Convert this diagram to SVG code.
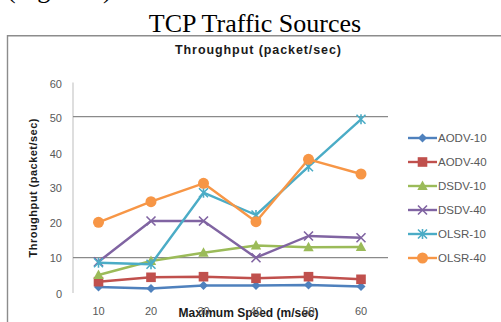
<svg xmlns="http://www.w3.org/2000/svg" width="501" height="322" viewBox="0 0 501 322">
  <style>
    .cap { font-family: "Liberation Serif", "Times New Roman", serif; font-size: 26px; fill: #000; }
    .ttl { font-family: "Liberation Sans", Arial, sans-serif; font-weight: bold; fill: #1a1a1a; }
    .tick { font-family: "Liberation Sans", Arial, sans-serif; font-size: 11px; fill: #595959; }
    .leg { font-family: "Liberation Sans", Arial, sans-serif; font-size: 11.5px; fill: #595959; }
    .grid { stroke: #8a8a8a; stroke-width: 1.2; }
    .axis { stroke: #c8c8c8; stroke-width: 1.2; }
    .ser { fill: none; stroke-width: 2.4; stroke-linejoin: round; }
    .aodv10 { stroke: #4F81BD; marker-start: url(#mDiamond); marker-mid: url(#mDiamond); marker-end: url(#mDiamond); }
    .aodv40 { stroke: #C0504D; marker-start: url(#mSquare); marker-mid: url(#mSquare); marker-end: url(#mSquare); }
    .dsdv10 { stroke: #9BBB59; marker-start: url(#mTri); marker-mid: url(#mTri); marker-end: url(#mTri); }
    .dsdv40 { stroke: #8064A2; marker-start: url(#mX); marker-mid: url(#mX); marker-end: url(#mX); }
    .olsr10 { stroke: #4BACC6; marker-start: url(#mStar); marker-mid: url(#mStar); marker-end: url(#mStar); }
    .olsr40 { stroke: #F79646; marker-start: url(#mCircle); marker-mid: url(#mCircle); marker-end: url(#mCircle); }
    .legline { marker-start: none; marker-end: none; }
  </style>
  <defs>
    <marker id="mDiamond" markerUnits="userSpaceOnUse" viewBox="-6 -6 12 12" markerWidth="12" markerHeight="12" refX="0" refY="0" overflow="visible">
      <path d="M0 -4.5 L4.5 0 L0 4.5 L-4.5 0 Z" fill="#4F81BD"/>
    </marker>
    <marker id="mSquare" markerUnits="userSpaceOnUse" viewBox="-6 -6 12 12" markerWidth="12" markerHeight="12" refX="0" refY="0" overflow="visible">
      <rect x="-4.8" y="-4.8" width="9.6" height="9.6" fill="#C0504D"/>
    </marker>
    <marker id="mTri" markerUnits="userSpaceOnUse" viewBox="-6 -6 12 12" markerWidth="12" markerHeight="12" refX="0" refY="0" overflow="visible">
      <path d="M0 -5.5 L5.2 4 L-5.2 4 Z" fill="#9BBB59"/>
    </marker>
    <marker id="mX" markerUnits="userSpaceOnUse" viewBox="-6 -6 12 12" markerWidth="12" markerHeight="12" refX="0" refY="0" overflow="visible">
      <path d="M-4.5 -4.5 L4.5 4.5 M4.5 -4.5 L-4.5 4.5" stroke="#8064A2" stroke-width="1.6" fill="none"/>
    </marker>
    <marker id="mStar" markerUnits="userSpaceOnUse" viewBox="-6 -6 12 12" markerWidth="12" markerHeight="12" refX="0" refY="0" overflow="visible">
      <path d="M-4.5 -4.5 L4.5 4.5 M4.5 -4.5 L-4.5 4.5 M0 -5 L0 5" stroke="#4BACC6" stroke-width="1.6" fill="none"/>
    </marker>
    <marker id="mCircle" markerUnits="userSpaceOnUse" viewBox="-6 -6 12 12" markerWidth="12" markerHeight="12" refX="0" refY="0" overflow="visible">
      <circle r="5.5" fill="#F79646"/>
    </marker>
  </defs>

  <rect width="501" height="322" fill="#ffffff"/>

  <!-- caption text above the chart (its first line runs off the top edge) -->
  <text class="cap" x="7" y="-2">(Figure 6).</text>
  <text class="cap" x="255" y="32" text-anchor="middle">TCP Traffic Sources</text>

  <!-- chart area frame -->
  <path d="M7.5 322 L7.5 35.7 L501 35.7" fill="none" stroke="#8c8c8c" stroke-width="1.4"/>

  <!-- titles -->
  <text class="ttl" x="258" y="54" text-anchor="middle" font-size="12.5" textLength="166" lengthAdjust="spacing">Throughput  (packet/sec)</text>
  <text class="ttl" font-size="11" text-anchor="middle" transform="translate(37 188) rotate(-90)" textLength="139" lengthAdjust="spacing">Throughput (packet/sec)</text>
  <text class="ttl" x="248.5" y="317" text-anchor="middle" font-size="12">Maximum Speed (m/sec)</text>

  <!-- axes and gridlines -->
  <g id="axes">
    <line class="axis" x1="73" y1="82.5" x2="73" y2="293"/>
    <line class="grid" x1="73" y1="116.7" x2="388" y2="116.7"/>
    <line class="grid" x1="73" y1="257.7" x2="388" y2="257.7"/>
    <g class="tick" text-anchor="end">
      <text x="62" y="88">60</text>
      <text x="62" y="122">50</text>
      <text x="62" y="158">40</text>
      <text x="62" y="192">30</text>
      <text x="62" y="227">20</text>
      <text x="62" y="262">10</text>
      <text x="62" y="298">0</text>
    </g>
    <g class="tick" text-anchor="middle">
      <text x="98.5" y="315">10</text>
      <text x="151" y="315">20</text>
      <text x="203.5" y="315">30</text>
      <text x="256" y="315">40</text>
      <text x="308.5" y="315">50</text>
      <text x="361" y="315">60</text>
    </g>
  </g>

  <!-- data series -->
  <g id="series">
    <polyline class="ser aodv10" points="98.5,287 151,288.5 203.5,285.5 256,285.5 308.5,285 361,286.5"/>
    <polyline class="ser aodv40" points="98.5,281.7 151,277.3 203.5,276.7 256,278.3 308.5,276.7 361,279.3"/>
    <polyline class="ser dsdv10" points="98.5,275 151,261 203.5,252.7 256,245.5 308.5,247.3 361,247"/>
    <polyline class="ser dsdv40" points="98.5,261.7 151,221 203.5,221 256,257.7 308.5,236 361,237.7"/>
    <polyline class="ser olsr10" points="98.5,262.7 151,264.3 203.5,192.7 256,215 308.5,166.7 361,119.3"/>
    <polyline class="ser olsr40" points="98.5,222.3 151,201.7 203.5,183.3 256,221.7 308.5,159.3 361,174"/>
  </g>

  <!-- legend -->
  <g id="legend">
    <path class="ser aodv10 legline" d="M408 138 L422.5 138 L437 138"/>
    <text class="leg" x="438" y="142">AODV-10</text>
    <path class="ser aodv40 legline" d="M408 162 L422.5 162 L437 162"/>
    <text class="leg" x="438" y="166">AODV-40</text>
    <path class="ser dsdv10 legline" d="M408 186 L422.5 186 L437 186"/>
    <text class="leg" x="438" y="190">DSDV-10</text>
    <path class="ser dsdv40 legline" d="M408 210 L422.5 210 L437 210"/>
    <text class="leg" x="438" y="214">DSDV-40</text>
    <path class="ser olsr10 legline" d="M408 234 L422.5 234 L437 234"/>
    <text class="leg" x="438" y="238">OLSR-10</text>
    <path class="ser olsr40 legline" d="M408 258 L422.5 258 L437 258"/>
    <text class="leg" x="438" y="262">OLSR-40</text>
  </g>
</svg>
